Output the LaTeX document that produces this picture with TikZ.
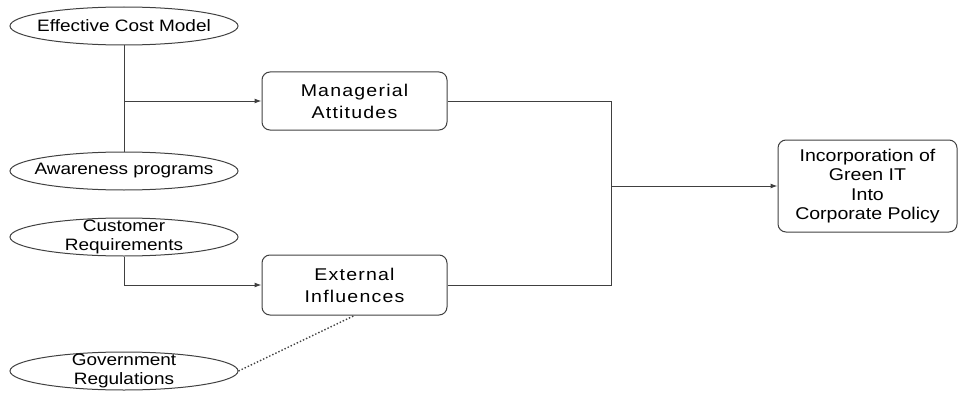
\documentclass[tikz,border=0pt]{standalone}
\usepackage{fontspec}
\setmainfont{Liberation Sans}
\newfontfamily\widefont[FakeStretch=1.15]{Liberation Sans}
\newfontfamily\spacedfont[FakeStretch=1.15,LetterSpace=7]{Liberation Sans}
\usetikzlibrary{shapes.geometric,arrows.meta}
\begin{document}
\begin{tikzpicture}[x=1pt,y=-1pt,
  line width=1pt,
  ink/.style={draw=black!75},
  factor/.style={ellipse,ink,minimum width=228pt,minimum height=38pt,
    inner xsep=-20pt,inner ysep=-6pt,
    font=\widefont\fontsize{16.5}{19}\selectfont,align=center},
  construct/.style={rectangle,rounded corners=8pt,ink,inner sep=0pt,
    font=\spacedfont\fontsize{17}{22}\selectfont,align=center},
  link/.style={ink,-{Latex[length=7pt,width=5pt]}},
  plain/.style={ink}]
\useasboundingbox (0,0) rectangle (958,396);

% driving factors
\node[factor] (cost) at (124,26) {Effective Cost Model};
\node[factor] (aware) at (124,171) {Awareness programs};
\node[factor] (cust) at (124,237) {Customer\\Requirements};
\node[factor] (gov) at (124,371) {Government\\Regulations};

% constructs
\node[construct,minimum width=185pt,minimum height=58pt] (mgr) at (354.5,101) {Managerial\\Attitudes};
\node[construct,minimum width=185pt,minimum height=60pt] (ext) at (354.5,285) {External\\Influences};
\node[construct,minimum width=179pt,minimum height=92pt,font=\widefont\fontsize{17}{19.5}\selectfont] (gitp) at (867.5,186) {Incorporation of\\Green IT\\Into\\Corporate Policy};

% junction points
\coordinate (j1) at (124,101);
\coordinate (j2) at (611,101);
\coordinate (j3) at (611,285);
\coordinate (j4) at (611,186);
\coordinate (j5) at (124,285);

% connectors
\draw[plain] (cost.south) -- (aware.north);
\draw[link] (j1) -- (mgr.west);
\draw[plain] (mgr.east) -- (j2) -- (j3) -- (ext.east);
\draw[link] (j4) -- (gitp.west);
\draw[link] (cust.south) -- (j5) -- (ext.west);
\draw[ink,dotted,line width=1.4pt] (gov.east) -- (ext.south);
\end{tikzpicture}
\end{document}
